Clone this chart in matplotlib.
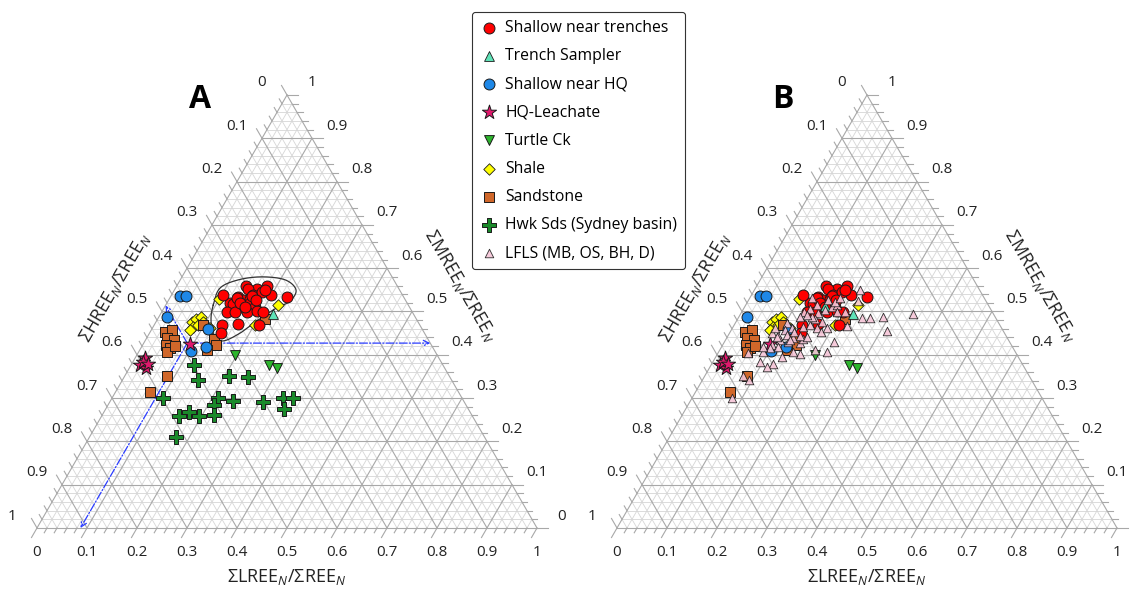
import numpy as np
import matplotlib
matplotlib.use('Agg')
import matplotlib.pyplot as plt

plt.rcParams['font.family'] = ['Open Sans', 'DejaVu Sans']
plt.rcParams['mathtext.fontset'] = 'custom'
plt.rcParams['mathtext.rm'] = 'Open Sans'
plt.rcParams['mathtext.it'] = 'Open Sans:italic'

# ternary data: L = ΣLREE_N/ΣREE_N, M = ΣMREE_N/ΣREE_N (H = 1 - L - M)
red_L = [0.139, 0.164, 0.180, 0.199, 0.234, 0.146, 0.163, 0.178, 0.136, 0.149, 0.162,
         0.126, 0.134, 0.155, 0.166, 0.181, 0.131, 0.147, 0.171, 0.190, 0.203, 0.135,
         0.162, 0.146, 0.161, 0.136, 0.167, 0.210, 0.143, 0.103, 0.181, 0.175]
red_M = [0.559, 0.552, 0.559, 0.538, 0.533, 0.552, 0.538, 0.545, 0.533, 0.527, 0.529,
         0.520, 0.517, 0.510, 0.517, 0.510, 0.499, 0.499, 0.499, 0.501, 0.499, 0.531,
         0.536, 0.520, 0.510, 0.469, 0.471, 0.469, 0.450, 0.538, 0.550, 0.527]

trench_L = [0.225, 0.160]
trench_M = [0.494, 0.513]

hq_L = [0.018, 0.030, 0.017, 0.112, 0.129, 0.104]
hq_M = [0.536, 0.536, 0.487, 0.460, 0.418, 0.409]

leach_L = [0.094, 0.020, 0.018, 0.033, 0.020, 0.033]
leach_M = [0.425, 0.393, 0.376, 0.370, 0.383, 0.379]

turtle_L = [0.196, 0.276, 0.295]
turtle_M = [0.400, 0.376, 0.370]

shale_L = [0.072, 0.077, 0.085, 0.094, 0.080, 0.077, 0.088, 0.115, 0.100, 0.225, 0.202]
shale_M = [0.476, 0.483, 0.487, 0.476, 0.464, 0.457, 0.469, 0.462, 0.529, 0.515, 0.469]

sand_L = [0.030, 0.041, 0.041, 0.057, 0.047, 0.058, 0.057, 0.066, 0.085, 0.069,
          0.098, 0.136, 0.147, 0.135, 0.215]
sand_M = [0.453, 0.457, 0.439, 0.434, 0.423, 0.416, 0.406, 0.420, 0.351, 0.314,
          0.469, 0.436, 0.423, 0.411, 0.483]

hwk_L = [0.126, 0.151, 0.209, 0.248, 0.102, 0.212, 0.246, 0.212, 0.307, 0.342,
         0.362, 0.357, 0.170, 0.155, 0.195, 0.224, 0.173]
hwk_M = [0.376, 0.342, 0.351, 0.349, 0.300, 0.300, 0.293, 0.284, 0.291, 0.300,
         0.300, 0.275, 0.268, 0.259, 0.259, 0.261, 0.210]

lfls_L = [0.211, 0.220, 0.248, 0.264, 0.289, 0.345, 0.313, 0.227, 0.219, 0.217, 0.191,
          0.165, 0.149, 0.133, 0.123, 0.114, 0.095, 0.060, 0.077, 0.093, 0.080, 0.089,
          0.153, 0.154, 0.133, 0.127, 0.109, 0.101, 0.085, 0.085, 0.104, 0.119, 0.140,
          0.152, 0.169, 0.182, 0.189, 0.154, 0.155, 0.147, 0.125, 0.133, 0.165, 0.175,
          0.159, 0.183, 0.143, 0.191, 0.134, 0.123, 0.128, 0.145, 0.108, 0.117, 0.100,
          0.099, 0.113, 0.160, 0.098, 0.083, 0.129, 0.207, 0.175, 0.172, 0.181, 0.125]
lfls_M = [0.550, 0.524, 0.485, 0.485, 0.487, 0.494, 0.455, 0.467, 0.430, 0.406, 0.411,
          0.402, 0.406, 0.395, 0.379, 0.372, 0.383, 0.404, 0.351, 0.342, 0.300, 0.406,
          0.427, 0.436, 0.439, 0.430, 0.434, 0.443, 0.450, 0.462, 0.473, 0.462, 0.464,
          0.469, 0.462, 0.453, 0.462, 0.497, 0.483, 0.487, 0.499, 0.506, 0.503, 0.510,
          0.527, 0.515, 0.515, 0.499, 0.492, 0.487, 0.453, 0.443, 0.457, 0.446, 0.441,
          0.423, 0.418, 0.441, 0.416, 0.418, 0.434, 0.499, 0.522, 0.476, 0.531, 0.531]

# envelope around the shallow-near-trenches group (panel A)
env_L = [0.095, 0.089, 0.116, 0.160, 0.210, 0.243, 0.244, 0.223, 0.202, 0.181, 0.156, 0.131, 0.108]
env_M = [0.515, 0.554, 0.573, 0.580, 0.573, 0.550, 0.524, 0.506, 0.480, 0.450, 0.432, 0.446, 0.480]

ex_L, ex_M = 0.087, 0.427

ticks = [0, 0.1, 0.2, 0.3, 0.4, 0.5, 0.6, 0.7, 0.8, 0.9, 1]
tick_labels = ['0', '0.1', '0.2', '0.3', '0.4', '0.5', '0.6', '0.7', '0.8', '0.9', '1']

S3 = np.sqrt(3) / 2


def tern(L, M):
    L = np.asarray(L, float)
    M = np.asarray(M, float)
    return L + M / 2, M * S3


def closed_spline(x, y, n=20):
    pts = np.column_stack([x, y])
    N = len(pts)
    t = np.linspace(0, 1, n, endpoint=False)[:, None]
    out = []
    for i in range(N):
        p0, p1, p2, p3 = pts[i - 1], pts[i], pts[(i + 1) % N], pts[(i + 2) % N]
        out.append(0.5 * (2 * p1 + (-p0 + p2) * t + (2 * p0 - 5 * p1 + 4 * p2 - p3) * t ** 2
                          + (-p0 + 3 * p1 - 3 * p2 + p3) * t ** 3))
    out = np.vstack(out)
    out = np.vstack([out, out[:1]])
    return out[:, 0], out[:, 1]


def draw_frame(ax, right_zero=True):
    minor_c, major_c = '#d6d6d6', '#a8a8a8'
    for k in range(1, 50):
        v = k / 50
        if k % 5 == 0:
            continue
        for (L1, M1, L2, M2) in [(0, v, 1 - v, v), (v, 0, v, 1 - v), (0, 1 - v, 1 - v, 0)]:
            x, y = tern([L1, L2], [M1, M2])
            ax.plot(x, y, color=minor_c, lw=0.6, zorder=1)
    for k in range(0, 11):
        v = k / 10
        for (L1, M1, L2, M2) in [(0, v, 1 - v, v), (v, 0, v, 1 - v), (0, 1 - v, 1 - v, 0)]:
            x, y = tern([L1, L2], [M1, M2])
            ax.plot(x, y, color=major_c, lw=0.8, zorder=1.5)
    # ticks
    for k in range(0, 51):
        v = k / 50
        tl = 0.022 if k % 5 == 0 else 0.011
        x, y = tern(1 - v, v)
        ax.plot([x, x + tl], [y, y], color=major_c, lw=0.8, zorder=1.5)
        x, y = tern(0, 1 - v)
        ax.plot([x, x - 0.5 * tl], [y, y + S3 * tl], color=major_c, lw=0.8, zorder=1.5)
        x, y = tern(v, 0)
        ax.plot([x, x - 0.5 * tl], [y, y - S3 * tl], color=major_c, lw=0.8, zorder=1.5)
    for v, lab in zip(ticks, tick_labels):
        ax.text(v, -0.05, lab, ha='center', va='center', fontsize=11, color='#222222')
        x, y = tern(0, 1 - v)
        ax.text(x - 0.05, y + 0.024, lab, ha='center', va='center', fontsize=11, color='#222222')
        if v == 0 and not right_zero:
            continue
        x, y = tern(1 - v, v)
        ax.text(x + 0.05, y + 0.024, lab, ha='center', va='center', fontsize=11, color='#222222')
    ax.text(0.5, -0.098, r'ΣLREE$_N$/ΣREE$_N$', ha='center', va='center', fontsize=13, color='#222222')
    ax.text(0.156, 0.48, r'ΣHREE$_N$/ΣREE$_N$', ha='center', va='center', fontsize=13,
            rotation=60, color='#222222')
    ax.text(0.846, 0.484, r'ΣMREE$_N$/ΣREE$_N$', ha='center', va='center', fontsize=13,
            rotation=-60, color='#222222')


groups = [
    ('Shallow near trenches', red_L, red_M, 'o', '#ff0000', 62),
    ('Trench Sampler', trench_L, trench_M, '^', '#5fe3b8', 50),
    ('Shallow near HQ', hq_L, hq_M, 'o', '#1e88e8', 62),
    ('HQ-Leachate', leach_L, leach_M, '*', '#e0186c', 115),
    ('Turtle Ck', turtle_L, turtle_M, 'v', '#2db52d', 50),
    ('Shale', shale_L, shale_M, 'D', '#ffff00', 34),
    ('Sandstone', sand_L, sand_M, 's', '#d0672a', 58),
    ('Hwk Sds (Sydney basin)', hwk_L, hwk_M, 'P', '#1a8a2a', 115),
    ('LFLS (MB, OS, BH, D)', lfls_L, lfls_M, '^', '#f6c6d8', 38),
]
zord = {'Hwk Sds (Sydney basin)': 3, 'Turtle Ck': 3, 'Sandstone': 4, 'Shale': 4,
        'Shallow near HQ': 5, 'HQ-Leachate': 5, 'Shallow near trenches': 6,
        'Trench Sampler': 7, 'LFLS (MB, OS, BH, D)': 8}

fig = plt.figure(figsize=(11.38, 5.89), dpi=100)
axA = fig.add_axes([0, 0, 0.5, 1])
axB = fig.add_axes([0.5, 0, 0.5, 1])
axA.set_xlim(-0.074, 1.064)
axB.set_xlim(-0.096, 1.042)
for ax in (axA, axB):
    ax.set_ylim(-0.122, 1.056)
    ax.axis('off')
draw_frame(axA)
draw_frame(axB, right_zero=False)

handles = {}
for name, L, M, mk, col, s in groups:
    x, y = tern(L, M)
    lw = 0.6 if mk in ('^', 'D') else 0.7
    if name != 'LFLS (MB, OS, BH, D)':
        za = zord[name] if name != 'Trench Sampler' else 5.5
        h = axA.scatter(x, y, marker=mk, s=s, c=col, edgecolors='#1a1a1a', linewidths=lw,
                        zorder=za, label=name)
        handles[name] = h
    if name != 'Hwk Sds (Sydney basin)':
        h = axB.scatter(x, y, marker=mk, s=s, c=col, edgecolors='#1a1a1a', linewidths=lw,
                        zorder=zord[name], label=name, alpha=0.9 if name.startswith('LFLS') else 1)
        handles.setdefault(name, h)

# envelope curve
ex, ey = tern(env_L, env_M)
cx, cy = closed_spline(ex, ey)
axA.plot(cx, cy, color='#333333', lw=0.9, zorder=2)

# arrows from example point
x0, y0 = tern(ex_L, ex_M)
ex_H = 1 - ex_L - ex_M
targets = [tern(1 - ex_M, ex_M), tern(0, 1 - ex_H), tern(ex_L, 0)]
for tx, ty in targets:
    axA.annotate('', xy=(tx, ty), xytext=(x0, y0),
                 arrowprops=dict(arrowstyle='->', color='#2a3cff', lw=0.9, linestyle='-.',
                                 shrinkA=0, shrinkB=0, mutation_scale=10), zorder=2)

axA.text(0.326, 0.856, 'A', fontsize=23, fontweight='bold', ha='center', va='center')
axB.text(0.332, 0.856, 'B', fontsize=23, fontweight='bold', ha='center', va='center')

order = [g[0] for g in groups]
leg = fig.legend([handles[n] for n in order], order, loc='upper left',
                 bbox_to_anchor=(0.4148, 0.98), borderaxespad=0, fontsize=11.3,
                 frameon=True, fancybox=True, edgecolor='#333333', framealpha=1,
                 labelspacing=0.78, handletextpad=0.5, borderpad=0.5, handlelength=1.1,
                 scatterpoints=1)
leg.get_frame().set_linewidth(0.8)

fig.savefig('out.png', dpi=100)
